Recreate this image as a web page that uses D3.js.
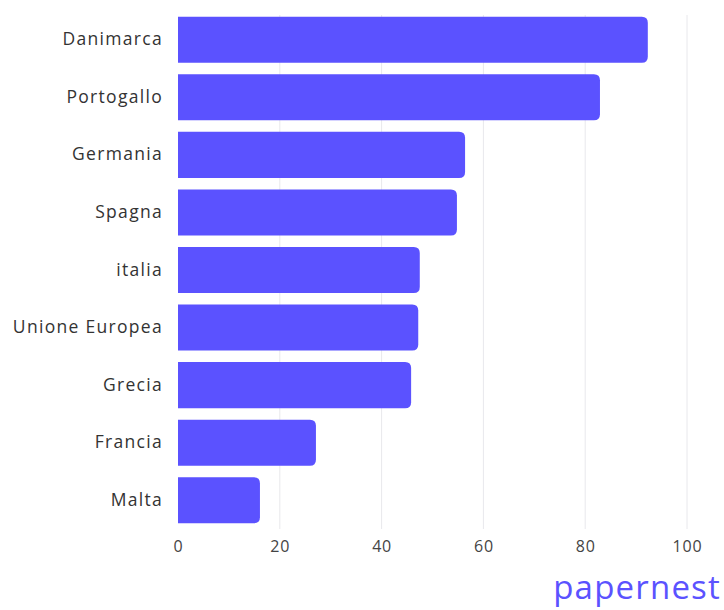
<!DOCTYPE html>
<html><head><meta charset="utf-8">
<script src="https://cdn.jsdelivr.net/npm/d3@7"></script>
<style>body{margin:0;background:#fff;} svg{display:block;}</style>
</head><body>
<svg id="c" width="724" height="610"></svg>
<script>
const categories = ["Danimarca","Portogallo","Germania","Spagna","italia","Unione Europea","Grecia","Francia","Malta"];
const values = [92.3, 82.9, 56.4, 54.8, 47.5, 47.2, 45.8, 27.1, 16.1];
const tickValues = [0, 20, 40, 60, 80, 100];

const svg = d3.select("#c");
const margin = {left: 178, right: 37, top: 11, bottom: 81};
const W = 724, H = 610;
const x = d3.scaleLinear().domain([0, 100]).range([margin.left, W - margin.right]);
const y = d3.scaleBand().domain(categories).range([margin.top, H - margin.bottom]).paddingInner(0.2).paddingOuter(0.1);

// grid
svg.append("g").selectAll("line").data(tickValues.slice(1)).join("line")
  .attr("x1", d => x(d)).attr("x2", d => x(d))
  .attr("y1", margin.top + 4).attr("y2", H - margin.bottom)
  .attr("stroke", "#e8e8ec").attr("stroke-width", 1);

// bars with rounded right end
const r = 6;
svg.append("g").selectAll("path").data(categories).join("path")
  .attr("fill", "#5B52FF")
  .attr("d", (c, i) => {
    const x0 = x(0), x1 = x(values[i]), y0 = y(c), h = y.bandwidth();
    return `M${x0},${y0}H${x1 - r}Q${x1},${y0} ${x1},${y0 + r}V${y0 + h - r}Q${x1},${y0 + h} ${x1 - r},${y0 + h}H${x0}Z`;
  });

// y labels
const yAxis = d3.axisLeft(y).tickSize(0).tickPadding(15);
const gy = svg.append("g").attr("transform", `translate(${x(0)},0)`).call(yAxis);
gy.select(".domain").remove();
gy.selectAll("text").attr("font-family", "'Open Sans', sans-serif").attr("font-size", 17.5)
  .attr("letter-spacing", 1.3).attr("fill", "#333");

// x labels
const xAxis = d3.axisBottom(x).tickValues(tickValues).tickSize(0).tickPadding(12);
const gx = svg.append("g").attr("transform", `translate(0,${H - margin.bottom})`).call(xAxis);
gx.select(".domain").remove();
gx.selectAll("text").attr("font-family", "'Open Sans', sans-serif").attr("font-size", 16)
  .attr("letter-spacing", 0.8).attr("fill", "#444");

// logo
svg.append("text").attr("x", 721).attr("y", 599).attr("text-anchor", "end")
  .attr("font-family", "'Open Sans', sans-serif").attr("font-size", 33).attr("font-weight", 400)
  .attr("fill", "#5B52FF").attr("letter-spacing", 1.2).text("papernest");
</script>
</body></html>
